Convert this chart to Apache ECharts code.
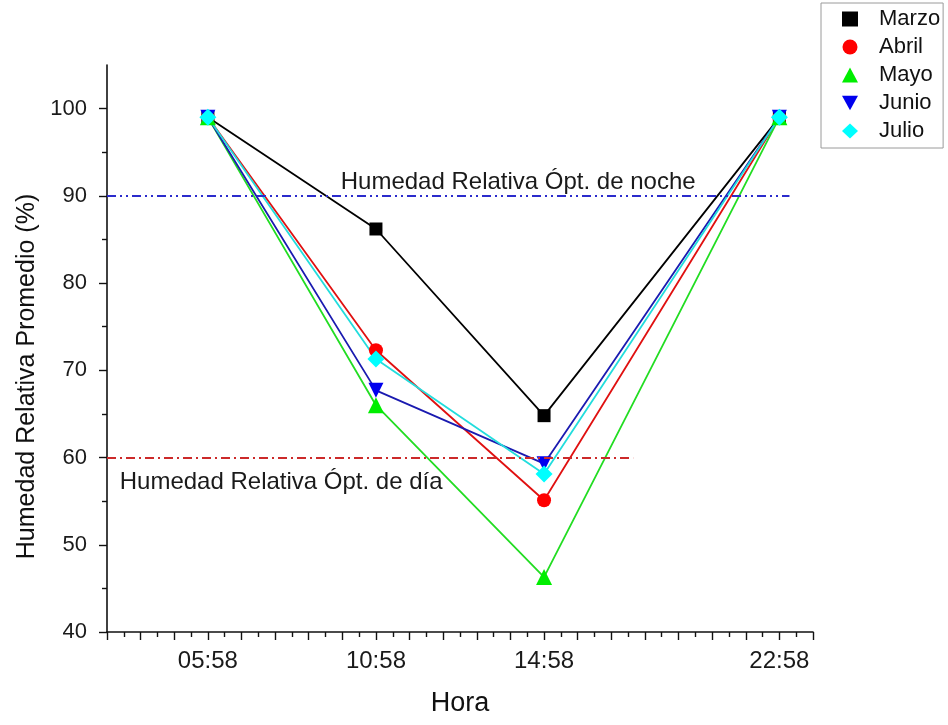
<!DOCTYPE html>
<html>
<head>
<meta charset="utf-8">
<script src="https://cdn.jsdelivr.net/npm/echarts@6/dist/echarts.min.js"></script>
<style>html,body{margin:0;padding:0;background:#fff;}#c{width:948px;height:725px;}</style>
</head>
<body>
<div id="c"></div>
<script>
// Hours (category labels) and their positions on the time axis (axis units)
var hours = ["05:58", "10:58", "14:58", "22:58"];
var hourPos = [3, 8, 13, 20];
// Y tick labels
var yTicks = [40, 50, 60, 70, 80, 90, 100];

// Relative humidity averages (%)
var marzo = [99, 86.2, 64.8, 99];
var abril = [99, 72.3, 55.1, 99];
var mayo  = [99, 66.0, 46.3, 99];
var junio = [99, 67.7, 59.3, 99];
var julio = [99, 71.3, 58.1, 99];

var nightOpt = 90;
var dayOpt = 60;

function pts(vals) {
  return vals.map(function (v, i) { return [hourPos[i], v]; });
}

var font = 'Liberation Sans, Arial, sans-serif';
var chart = echarts.init(document.getElementById('c'), null, {renderer: 'canvas'});

function mkSeries(name, vals, color, lineColor, symbol, size, rotate) {
  return {
    name: name, type: 'line', data: pts(vals),
    symbol: symbol, symbolSize: size, symbolRotate: rotate || 0,
    showAllSymbol: true,
    lineStyle: {color: lineColor, width: 1.8},
    itemStyle: {color: color},
    emphasis: {disabled: true},
    z: 3
  };
}

var series = [
  mkSeries('Marzo', marzo, '#000000', '#000000', 'rect', 13),
  mkSeries('Abril', abril, '#ff0000', '#e01010', 'circle', 14),
  mkSeries('Mayo', mayo, '#00ee00', '#22dd22', 'triangle', 16),
  mkSeries('Junio', junio, '#0000ee', '#1a1ab0', 'triangle', 15, 180),
  mkSeries('Julio', julio, '#00ffff', '#22dddd', 'diamond', 17)
];

// reference lines
series.push({
  name: 'refNight', type: 'line', data: [], silent: true,
  markLine: {
    silent: true, symbol: 'none', animation: false,
    lineStyle: {color: '#2b2bcc', width: 2, type: [9, 4, 2, 4, 2, 4]},
    label: {show: false},
    data: [[{coord: [0, nightOpt]}, {coord: [20.3, nightOpt]}]]
  },
  markPoint: {
    symbol: 'circle', symbolSize: 0, silent: true, animation: false,
    label: {show: true, position: 'top', distance: 1, color: '#1a1a1a', fontSize: 24, fontFamily: font,
      formatter: 'Humedad Relativa Ópt. de noche'},
    data: [{coord: [12.23, nightOpt]}]
  }
});
series.push({
  name: 'refDay', type: 'line', data: [], silent: true,
  markLine: {
    silent: true, symbol: 'none', animation: false,
    lineStyle: {color: '#cc2a2a', width: 2, type: [9, 4, 2, 4]},
    label: {show: false},
    data: [[{coord: [0, dayOpt]}, {coord: [15.65, dayOpt]}]]
  },
  markPoint: {
    symbol: 'circle', symbolSize: 0, silent: true, animation: false,
    label: {show: true, position: 'bottom', distance: 13, color: '#1a1a1a', fontSize: 24, fontFamily: font,
      formatter: 'Humedad Relativa Ópt. de día'},
    data: [{coord: [5.18, dayOpt]}]
  }
});

var option = {
  animation: false,
  backgroundColor: '#fff',
  textStyle: {fontFamily: font},
  grid: {left: 107, right: 135, top: 65, bottom: 93, containLabel: false},
  legend: {
    orient: 'vertical', left: 821, top: 3,
    padding: [5, 3, 6, 21],
    borderColor: '#9a9a9a', borderWidth: 1,
    itemGap: 6, itemWidth: 16, itemHeight: 15,
    textStyle: {fontSize: 22, color: '#111', fontFamily: font, padding: [0, 0, 0, 16]},
    data: [
      {name: 'Marzo', icon: 'rect'},
      {name: 'Abril', icon: 'circle'},
      {name: 'Mayo', icon: 'triangle'},
      {name: 'Junio', icon: 'path://M0,0L10,0L5,9Z'},
      {name: 'Julio', icon: 'diamond'}
    ]
  },
  xAxis: {
    type: 'value', min: 0, max: 21, interval: 1,
    name: 'Hora', nameLocation: 'middle', nameGap: 58,
    nameTextStyle: {fontSize: 27, color: '#111', fontFamily: font},
    axisLine: {show: true, onZero: false, lineStyle: {color: '#111', width: 1.6}},
    axisTick: {show: true, inside: false, length: 8, lineStyle: {color: '#111', width: 1.4}},
    minorTick: {show: true, splitNumber: 2, length: 5, lineStyle: {color: '#111', width: 1.4}},
    splitLine: {show: false},
    axisLabel: {
      show: true, margin: 17, fontSize: 24, color: '#1a1a1a', fontFamily: font,
      customValues: hourPos,
      formatter: function (v) {
        var i = hourPos.indexOf(v);
        return i >= 0 ? hours[i] : '';
      }
    }
  },
  yAxis: {
    type: 'value', min: 40, max: 105, interval: 10,
    name: 'Humedad Relativa Promedio (%)', nameLocation: 'middle', nameGap: 64,
    nameRotate: 90,
    nameTextStyle: {fontSize: 25, color: '#111', fontFamily: font, padding: [0, 0, 0, -56]},
    axisLine: {show: true, onZero: false, lineStyle: {color: '#111', width: 1.6}},
    axisTick: {show: true, inside: false, length: 8, customValues: yTicks, lineStyle: {color: '#111', width: 1.4}},
    minorTick: {show: true, splitNumber: 2, length: 5, lineStyle: {color: '#111', width: 1.4}},
    splitLine: {show: false},
    axisLabel: {
      show: true, margin: 20, fontSize: 22, color: '#1a1a1a', fontFamily: font,
      customValues: yTicks,
      formatter: function (v) { return String(v); }
    }
  },
  series: series
};
chart.setOption(option);
</script>
</body>
</html>
